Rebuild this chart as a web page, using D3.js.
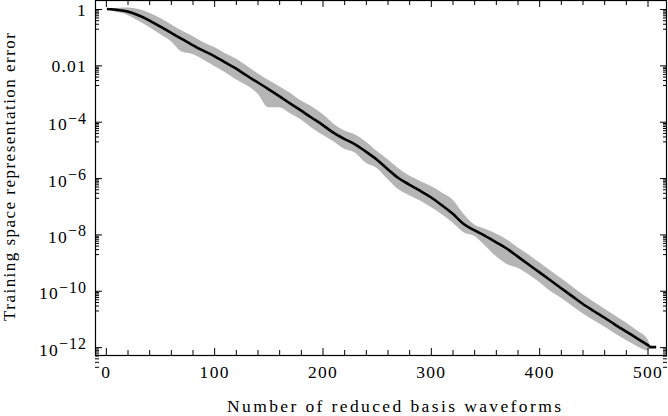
<!DOCTYPE html>
<html>
<head>
<meta charset="utf-8">
<script src="https://cdn.jsdelivr.net/npm/d3@7"></script>
<style>
  html, body { margin: 0; padding: 0; background: #fff; }
  svg { display: block; font-family: "Liberation Serif", "Times New Roman", serif; }
</style>
</head>
<body>
<svg id="chart" width="668" height="416"></svg>
<script>
// ---- data (exponents are log10 of the representation error) ----
const nValues = [1, 5, 10, 20, 30, 40, 50, 60, 70, 80, 90, 100, 110, 120, 130, 140, 150, 160, 170, 180, 190,
  200, 210, 220, 230, 240, 250, 260, 270, 280, 290, 300, 310, 320, 330, 340, 350, 360, 370, 380, 390,
  400, 410, 420, 430, 440, 450, 460, 470, 480, 490, 500, 503, 508];
const medianExp = [0.0, -0.01, -0.03, -0.09, -0.22, -0.40, -0.62, -0.84, -1.06, -1.28, -1.48, -1.67, -1.89,
  -2.11, -2.36, -2.60, -2.84, -3.09, -3.35, -3.60, -3.86, -4.11, -4.39, -4.61, -4.80, -5.06, -5.34, -5.68,
  -6.00, -6.23, -6.45, -6.68, -6.96, -7.26, -7.62, -7.85, -8.05, -8.27, -8.50, -8.78, -9.06, -9.34, -9.62,
  -9.90, -10.18, -10.46, -10.71, -10.95, -11.20, -11.44, -11.68, -11.92, -12.0, -12.0];
const upperSpread = [0.01, 0.04, 0.07, 0.14, 0.22, 0.27, 0.30, 0.30, 0.30, 0.32, 0.30, 0.32, 0.32, 0.35, 0.35,
  0.32, 0.32, 0.35, 0.38, 0.35, 0.40, 0.38, 0.32, 0.30, 0.35, 0.35, 0.30, 0.35, 0.35, 0.32, 0.35, 0.40, 0.45,
  0.50, 0.35, 0.20, 0.25, 0.30, 0.32, 0.32, 0.35, 0.35, 0.35, 0.35, 0.34, 0.34, 0.33, 0.32, 0.32, 0.31, 0.28,
  0.20, 0.04, 0.01];
const lowerSpread = [0.01, 0.04, 0.07, 0.12, 0.20, 0.24, 0.27, 0.30, 0.45, 0.32, 0.32, 0.35, 0.35, 0.38, 0.35,
  0.40, 0.65, 0.40, 0.35, 0.32, 0.35, 0.35, 0.30, 0.35, 0.30, 0.40, 0.30, 0.35, 0.40, 0.38, 0.35, 0.35, 0.32,
  0.32, 0.30, 0.20, 0.35, 0.50, 0.55, 0.40, 0.35, 0.35, 0.38, 0.35, 0.34, 0.34, 0.33, 0.32, 0.32, 0.31, 0.28,
  0.20, 0.04, 0.01];

const xMajorTicks = [0, 100, 200, 300, 400, 500];
const xMinorTicks = d3.range(0, 520, 20).filter(v => v % 100 !== 0);
const yMajorExps = [0, -2, -4, -6, -8, -10, -12];
const yMajorLabels = ["1", "0.01", "10|−4", "10|−6", "10|−8", "10|−10", "10|−12"];
const xTitle = "Number of reduced basis waveforms";
const yTitle = "Training space representation error";

// ---- layout ----
const svg = d3.select("#chart");
const L = 95, R = 667, T = 0, B = 355;
const FONT = "'Liberation Serif', 'Times New Roman', serif";
const x = d3.scaleLinear().domain([-10, 518]).range([L, R]);
const y = d3.scaleLog().domain([Math.pow(10, -12.28), Math.pow(10, 0.32)]).range([B, T]);

const rows = nValues.map((n, i) => ({
  n, m: medianExp[i], up: upperSpread[i], lo: lowerSpread[i]
}));

// band
const area = d3.area()
  .x(d => x(d.n))
  .y0(d => y(Math.pow(10, d.m - d.lo)))
  .y1(d => y(Math.pow(10, d.m + d.up)))
  .curve(d3.curveMonotoneX);
svg.append("path").datum(rows).attr("d", area).attr("fill", "#b5b5b5");

// median line
const line = d3.line()
  .x(d => x(d.n))
  .y(d => y(Math.pow(10, d.m)))
  .curve(d3.curveMonotoneX);
svg.append("path").datum(rows).attr("d", line)
  .attr("fill", "none").attr("stroke", "#000").attr("stroke-width", 2.6);

// ---- axes ----
const yMajorVals = yMajorExps.map(e => Math.pow(10, e));
const yMinorVals = [];
yMajorExps.forEach(e => { for (let k = 2; k <= 9; k++) yMinorVals.push(k * Math.pow(10, e - 1)); });

function styleAxis(g) {
  g.select(".domain").remove();
  g.selectAll(".tick line").attr("stroke", "#000").attr("stroke-width", 1);
}

// bottom
svg.append("g").attr("transform", `translate(0,${B})`)
  .call(d3.axisBottom(x).tickValues(xMinorTicks).tickSize(-5).tickFormat(""))
  .call(styleAxis);
const xb = svg.append("g").attr("transform", `translate(0,${B})`)
  .call(d3.axisBottom(x).tickValues(xMajorTicks).tickSize(-7).tickPadding(0).tickFormat(d3.format("d")))
  .call(styleAxis);
xb.selectAll(".tick text")
  .attr("y", 23).attr("dy", 0)
  .attr("font-size", 17.5).attr("letter-spacing", "1.3px")
  .style("font-family", FONT).attr("fill", "#000");

// top
svg.append("g").attr("transform", `translate(0,${T})`)
  .call(d3.axisTop(x).tickValues(xMinorTicks).tickSize(-5).tickFormat(""))
  .call(styleAxis);
svg.append("g").attr("transform", `translate(0,${T})`)
  .call(d3.axisTop(x).tickValues(xMajorTicks).tickSize(-7).tickFormat(""))
  .call(styleAxis);

// left
svg.append("g").attr("transform", `translate(${L},0)`)
  .call(d3.axisLeft(y).tickValues(yMinorVals).tickSize(-4).tickFormat(""))
  .call(styleAxis);
const yl = svg.append("g").attr("transform", `translate(${L},0)`)
  .call(d3.axisLeft(y).tickValues(yMajorVals).tickSize(-7).tickFormat(""))
  .call(styleAxis);
yl.selectAll(".tick text").remove();
yl.selectAll(".tick").each(function(d, i) {
  const parts = yMajorLabels[i].split("|");
  const t = d3.select(this).append("text")
    .attr("x", -8).attr("y", parts.length > 1 ? 8 : 6)
    .attr("text-anchor", "end").attr("fill", "#000")
    .attr("font-size", 17.5).attr("letter-spacing", "1.2px")
    .style("font-family", FONT);
  t.append("tspan").text(parts[0]);
  if (parts.length > 1) {
    t.append("tspan").attr("dy", -6.5).attr("font-size", 16).attr("letter-spacing", "1px").text(parts[1]);
  }
});

// right
svg.append("g").attr("transform", `translate(${R},0)`)
  .call(d3.axisRight(y).tickValues(yMinorVals).tickSize(-4).tickFormat(""))
  .call(styleAxis);
svg.append("g").attr("transform", `translate(${R},0)`)
  .call(d3.axisRight(y).tickValues(yMajorVals).tickSize(-7).tickFormat(""))
  .call(styleAxis);

// frame
svg.append("rect").attr("x", L + 0.5).attr("y", T + 0.5)
  .attr("width", R - L - 1).attr("height", B - T)
  .attr("fill", "none").attr("stroke", "#000").attr("stroke-width", 1.2);

// titles
svg.append("text").attr("x", 394).attr("y", 412).attr("text-anchor", "middle")
  .attr("font-size", 17.5).attr("textLength", 334).attr("lengthAdjust", "spacing")
  .style("font-family", FONT).attr("fill", "#000").text(xTitle);
svg.append("text").attr("transform", "translate(15,177) rotate(-90)").attr("text-anchor", "middle")
  .attr("font-size", 17).attr("textLength", 288).attr("lengthAdjust", "spacing")
  .style("font-family", FONT).attr("fill", "#000").text(yTitle);
</script>
</body>
</html>
